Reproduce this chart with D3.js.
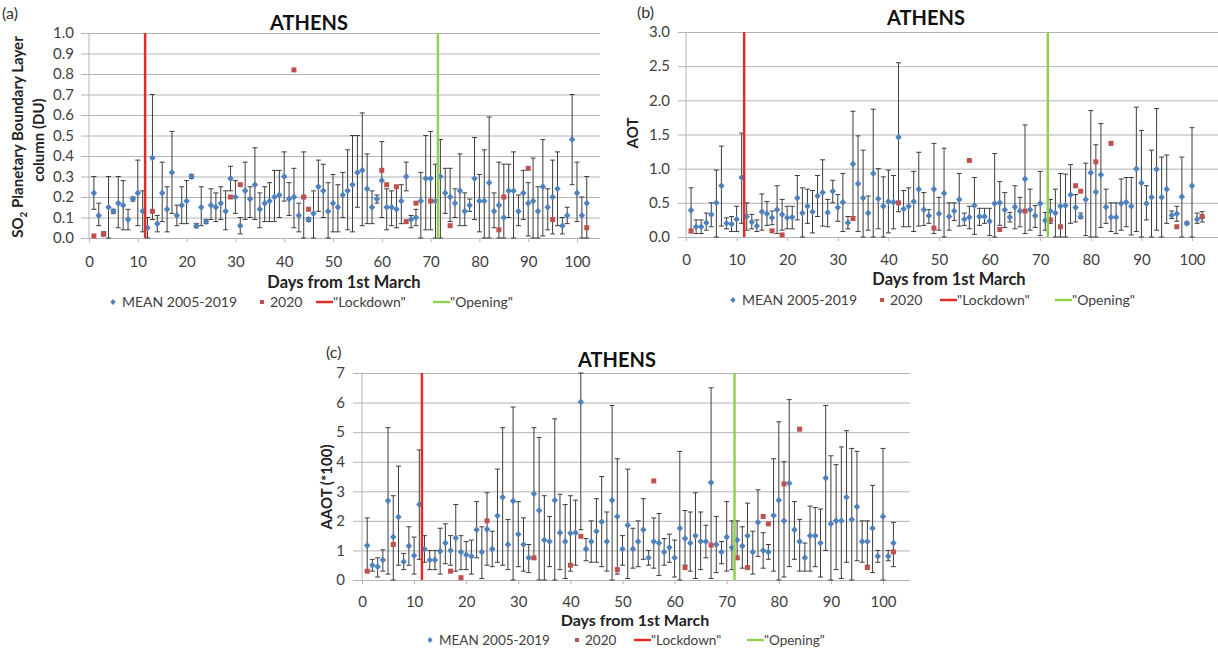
<!DOCTYPE html>
<html>
<head>
<meta charset="utf-8">
<script src="https://cdn.jsdelivr.net/npm/d3@7"></script>
<style>
  body { margin: 0; background: #fff; }
  text { font-family: Lato, "Open Sans", sans-serif; }
</style>
</head>
<body>
<svg id="chart" width="1218" height="648"></svg>
<script>
// days from 1st March
const days = d3.range(1, 103);
const xTicks = [0, 10, 20, 30, 40, 50, 60, 70, 80, 90, 100];
const lockdownDay = 11.5;
const openingDay = 71.5;

// (a) SO2 PBL column (DU)
const so2Mean = [0.22,0.11,0.02,0.15,0.13,0.17,0.16,0.09,0.19,0.22, 0.13,0.05,0.39,0.07,0.22,0.14,0.32,0.11,0.16,0.18,
  0.30,0.06,0.15,0.08,0.16,0.15,0.17,0.13,0.29,0.20, 0.06,0.23,0.19,0.26,0.14,0.17,0.18,0.20,0.21,0.30,
  0.19,0.20,0.11,0.20,0.09,0.12,0.25,0.23,0.13,0.17, 0.15,0.21,0.23,0.26,0.32,0.33,0.24,0.15,0.19,0.28,
  0.15,0.15,0.14,0.18,0.30,0.09,0.10,0.18,0.29,0.29, 0.18,0.30,0.22,0.20,0.17,0.23,0.13,0.16,0.29,0.18,
  0.18,0.27,0.13,0.16,0.10,0.23,0.23,0.13,0.22,0.17, 0.18,0.13,0.25,0.15,0.20,0.24,0.06,0.11,0.48,0.22,
  0.11,0.17];
const so2Hi = [0.30,0.17,0.03,0.30,0.14,0.30,0.28,0.14,0.20,0.38, 0.23,0.10,0.70,0.11,0.37,0.25,0.52,0.16,0.25,0.28,
  0.31,0.07,0.25,0.09,0.24,0.22,0.25,0.23,0.35,0.28, 0.10,0.37,0.25,0.44,0.22,0.25,0.27,0.33,0.33,0.42,
  0.27,0.34,0.17,0.42,0.10,0.23,0.38,0.36,0.27,0.31, 0.26,0.32,0.43,0.50,0.50,0.61,0.41,0.23,0.21,0.47,
  0.24,0.23,0.25,0.26,0.37,0.11,0.14,0.32,0.50,0.52, 0.36,0.48,0.34,0.34,0.24,0.41,0.22,0.19,0.49,0.31,
  0.43,0.59,0.22,0.37,0.36,0.36,0.42,0.21,0.33,0.27, 0.39,0.25,0.48,0.24,0.38,0.42,0.10,0.15,0.70,0.37,
  0.20,0.30];
const so2Lo = [0.14,0.06,0.01,0.00,0.12,0.05,0.04,0.04,0.18,0.06, 0.03,0.00,0.09,0.03,0.08,0.03,0.12,0.06,0.07,0.07,
  0.29,0.05,0.06,0.07,0.09,0.08,0.09,0.04,0.23,0.12, 0.02,0.09,0.10,0.09,0.05,0.08,0.08,0.08,0.10,0.18,
  0.11,0.05,0.03,0.00,0.08,0.00,0.13,0.10,0.00,0.03, 0.03,0.10,0.04,0.03,0.15,0.06,0.07,0.07,0.17,0.10,
  0.04,0.06,0.05,0.07,0.23,0.05,0.06,0.00,0.04,0.04, 0.00,0.00,0.12,0.08,0.10,0.06,0.06,0.13,0.09,0.03,
  0.00,0.00,0.05,0.00,0.00,0.10,0.00,0.06,0.09,0.01, 0.00,0.00,0.01,0.04,0.02,0.06,0.02,0.07,0.26,0.08,
  0.00,0.00];
const so2Days2020 = [1, 3, 13, 29, 31, 42, 44, 45, 60, 61, 63, 65, 67, 70, 74, 84, 85, 90, 95, 102];
const so2Val2020 = [0.01, 0.02, 0.13, 0.20, 0.26, 0.82, 0.20, 0.14, 0.33, 0.26, 0.25, 0.08, 0.17, 0.18, 0.06, 0.04, 0.20, 0.34, 0.09, 0.05];

// (b) AOT
const aotMean = [0.39,0.15,0.15,0.21,0.33,0.50,0.75,0.20,0.19,0.26, 0.87,0.30,0.22,0.16,0.37,0.34,0.28,0.40,0.33,0.28,
  0.29,0.57,0.35,0.45,0.37,0.60,0.65,0.36,0.67,0.43, 0.51,0.21,1.07,0.78,0.57,0.35,0.93,0.56,0.45,0.52,
  0.51,1.46,0.41,0.45,0.52,0.70,0.40,0.31,0.70,0.34, 0.64,0.30,0.38,0.55,0.26,0.29,0.46,0.30,0.30,0.23,
  0.49,0.50,0.40,0.29,0.44,0.38,0.85,0.40,0.31,0.49, 0.24,0.38,0.35,0.45,0.46,0.62,0.43,0.30,0.55,0.94,
  0.66,0.91,0.44,0.29,0.29,0.49,0.51,0.45,1.00,0.79, 0.49,0.58,0.99,0.58,0.70,0.32,0.34,0.59,0.20,0.75,
  0.26,0.29];
const aotHi = [0.72,0.25,0.25,0.35,0.50,0.98,1.33,0.28,0.30,0.45, 1.52,0.50,0.33,0.25,0.63,0.52,0.38,0.75,0.55,0.45,
  0.45,0.90,0.72,0.70,0.68,0.90,1.13,0.55,0.83,0.62, 0.93,0.30,1.84,1.48,1.27,0.60,1.87,1.00,0.88,0.98,
  0.90,2.55,0.68,0.72,0.96,1.24,0.65,0.40,1.37,0.58, 1.30,0.50,0.50,0.93,0.35,0.45,0.87,0.42,0.42,0.42,
  1.22,0.81,0.65,0.36,0.75,0.58,1.64,0.70,0.46,0.96, 0.36,0.55,0.70,0.93,0.92,1.06,0.62,0.35,1.08,1.85,
  1.35,1.66,0.70,0.50,0.50,0.85,0.87,0.87,1.90,1.56, 0.75,1.27,1.88,1.17,1.20,0.38,0.45,1.17,0.22,1.60,
  0.35,0.37];
const aotLo = [0.06,0.05,0.05,0.10,0.15,0.00,0.16,0.12,0.08,0.08, 0.20,0.10,0.12,0.08,0.10,0.17,0.18,0.05,0.10,0.12,
  0.12,0.25,0.00,0.20,0.06,0.30,0.16,0.15,0.50,0.23, 0.08,0.12,0.30,0.08,0.00,0.10,0.00,0.12,0.00,0.06,
  0.12,0.37,0.15,0.15,0.08,0.16,0.17,0.20,0.05,0.10, 0.00,0.10,0.24,0.16,0.17,0.12,0.04,0.17,0.20,0.02,
  0.00,0.17,0.14,0.22,0.12,0.15,0.05,0.10,0.14,0.02, 0.10,0.20,0.00,0.00,0.00,0.20,0.22,0.27,0.02,0.00,
  0.00,0.14,0.20,0.08,0.05,0.10,0.15,0.03,0.08,0.00, 0.25,0.00,0.10,0.00,0.20,0.27,0.23,0.00,0.18,0.00,
  0.20,0.22];
const aotDays2020 = [1, 17, 19, 33, 42, 49, 56, 62, 67, 72, 74, 77, 78, 81, 84, 97, 102];
const aotVal2020 = [0.09, 0.09, 0.03, 0.27, 0.50, 0.13, 1.12, 0.11, 0.38, 0.25, 0.15, 0.75, 0.67, 1.10, 1.37, 0.15, 0.30];

// (c) AAOT (*100)
const aaotMean = [1.17,0.50,0.45,0.68,2.68,1.45,2.13,0.62,1.15,0.83, 2.55,1.05,0.68,0.68,0.97,1.25,1.00,1.42,0.95,0.85,
  0.80,1.70,0.95,1.72,1.05,2.17,2.80,1.20,2.67,1.55, 1.20,0.75,2.92,2.35,1.35,1.30,2.70,1.60,1.30,1.58,
  1.60,6.02,1.05,1.30,1.65,1.97,1.30,2.70,2.15,1.05, 1.85,1.05,1.30,1.70,0.75,1.30,1.25,0.95,1.10,0.75,
  1.75,1.40,1.25,1.50,1.30,1.30,3.30,1.20,0.95,1.45, 1.10,1.35,1.15,1.50,0.95,1.95,1.00,0.95,2.18,2.70,
  2.00,3.27,1.70,1.30,0.75,1.50,1.50,1.25,3.45,1.90, 2.00,2.00,2.80,2.05,2.48,1.30,1.30,1.75,0.80,2.15,
  0.80,1.25];
const aaotHi = [2.10,0.70,0.75,1.02,5.15,2.85,3.85,0.90,1.80,1.45, 4.40,1.50,1.00,1.00,1.75,1.90,1.50,2.55,1.50,1.30,
  1.35,2.65,1.80,2.95,1.65,3.75,5.15,2.05,5.85,2.65, 2.10,1.20,5.15,4.82,2.85,2.15,5.45,2.90,2.55,2.85,
  2.70,7.00,1.40,2.00,2.75,3.50,2.30,5.90,4.10,1.50, 3.75,1.75,2.00,2.75,1.00,2.10,2.25,1.40,1.55,1.35,
  4.35,2.35,2.30,2.95,2.30,1.85,6.50,2.15,1.30,2.65, 2.00,2.00,1.80,2.60,1.65,3.05,1.60,1.20,4.10,5.35,
  4.00,6.10,2.65,2.05,1.25,2.50,2.45,2.40,5.90,4.20, 3.90,4.50,5.05,4.45,4.35,2.00,2.00,3.20,1.00,4.45,
  1.00,1.95];
const aaotLo = [0.30,0.30,0.10,0.30,0.20,0.00,0.50,0.35,0.50,0.20, 0.70,0.60,0.35,0.35,0.20,0.55,0.50,0.30,0.35,0.35,
  0.20,0.75,0.05,0.50,0.45,0.60,0.50,0.35,0.00,0.45, 0.30,0.25,0.70,0.00,0.00,0.45,0.00,0.35,0.05,0.30,
  0.50,1.70,0.65,0.60,0.60,0.45,0.30,0.00,0.20,0.50, 0.05,0.40,0.45,0.70,0.50,0.40,0.15,0.50,0.60,0.10,
  0.00,0.50,0.30,0.05,0.35,0.75,0.05,0.25,0.55,0.30, 0.35,0.70,0.40,0.40,0.20,0.80,0.40,0.70,0.30,0.00,
  0.10,0.45,0.70,0.30,0.30,0.30,0.45,0.10,1.00,0.00, 0.35,0.05,0.60,0.00,0.65,0.60,0.50,0.25,0.60,0.00,
  0.65,0.45];
const aaotDays2020 = [1, 6, 17, 19, 24, 33, 40, 42, 49, 56, 62, 67, 72, 74, 77, 78, 81, 84, 97, 102];
const aaotVal2020 = [0.30, 1.20, 0.30, 0.08, 2.00, 0.75, 0.50, 1.48, 0.35, 3.35, 0.42, 1.18, 0.75, 0.42, 2.15, 1.90, 3.25, 5.10, 0.42, 0.95];

const blue = '#4f81bd', red = '#c0504d', lockRed = '#e42b2b', openGreen = '#92d050';
const svg = d3.select('#chart');

function drawPanel(p) {
  const g = svg.append('g');
  const x = d3.scaleLinear().domain([0, 100]).range([p.x0, p.x100]);
  const y = d3.scaleLinear().domain([0, p.ymax]).range([p.bottom, p.top]);

  // horizontal grid + y tick labels
  const ya = g.append('g').attr('transform', `translate(${p.left},0)`)
    .call(d3.axisLeft(y).tickValues(p.yTicks).tickFormat(p.yFmt)
      .tickSize(-(p.right - p.left)).tickPadding(p.yPad));
  ya.select('.domain').remove();
  ya.selectAll('line').attr('stroke', '#b4b4b4');
  ya.selectAll('text').attr('font-size', 15).attr('fill', '#404040').attr('font-family', 'Lato, sans-serif');

  // x axis ticks + labels
  const xa = g.append('g').attr('transform', `translate(0,${p.bottom})`)
    .call(d3.axisBottom(x).tickValues(xTicks).tickSize(4).tickPadding(p.xPad));
  xa.select('.domain').remove();
  xa.selectAll('line').attr('stroke', '#b4b4b4');
  xa.selectAll('text').attr('font-size', 15).attr('fill', '#404040').attr('font-family', 'Lato, sans-serif');

  g.append('line').attr('x1', x(0)).attr('x2', x(0)).attr('y1', p.top).attr('y2', p.bottom)
    .attr('stroke', '#b4b4b4');

  // error bars
  const rows = days.map((d, i) => ({ d, m: p.mean[i], hi: p.hi[i], lo: p.lo[i] }));
  const eb = g.append('g').attr('stroke', '#3c3c3c').attr('stroke-width', 1)
    .selectAll('g').data(rows).join('g');
  eb.append('line').attr('x1', r => x(r.d)).attr('x2', r => x(r.d))
    .attr('y1', r => y(r.hi)).attr('y2', r => y(r.lo));
  eb.append('line').attr('x1', r => x(r.d) - 2.5).attr('x2', r => x(r.d) + 2.5)
    .attr('y1', r => y(r.hi)).attr('y2', r => y(r.hi));
  eb.append('line').attr('x1', r => x(r.d) - 2.5).attr('x2', r => x(r.d) + 2.5)
    .attr('y1', r => y(r.lo)).attr('y2', r => y(r.lo));

  // mean diamonds
  g.append('g').selectAll('path').data(rows).join('path')
    .attr('d', 'M0,-3.5L3.2,0L0,3.5L-3.2,0Z')
    .attr('transform', r => `translate(${x(r.d)},${y(r.m)})`)
    .attr('fill', blue);

  // 2020 squares
  g.append('g').selectAll('rect').data(p.days2020).join('rect')
    .attr('x', (d) => x(d) - 2.5)
    .attr('y', (d, i) => y(p.val2020[i]) - 2.5)
    .attr('width', 5).attr('height', 5)
    .attr('fill', red);

  // lockdown & opening
  g.append('line').attr('x1', x(lockdownDay)).attr('x2', x(lockdownDay))
    .attr('y1', p.top).attr('y2', p.bottom).attr('stroke', lockRed).attr('stroke-width', 2.5);
  g.append('line').attr('x1', x(openingDay)).attr('x2', x(openingDay))
    .attr('y1', p.top).attr('y2', p.bottom).attr('stroke', openGreen).attr('stroke-width', 2.5);

  // titles
  g.append('text').attr('x', p.titleX).attr('y', p.titleY).attr('text-anchor', 'middle')
    .attr('font-size', 20).attr('font-weight', 'bold').attr('fill', '#111').text('ATHENS');
  g.append('text').attr('x', p.tagX).attr('y', p.tagY).attr('font-size', 16).attr('fill', '#333').text(p.tag);
  g.append('text').attr('x', p.xTitleX).attr('y', p.xTitleY).attr('text-anchor', 'middle')
    .attr('font-size', p.xTitleSize).attr('font-weight', 'bold').attr('fill', '#222').text('Days from 1st March');

  // y title
  p.yTitle(g);

  // legend
  const lg = g.append('g').attr('font-size', p.legendSize).attr('fill', '#404040');
  const L = p.legend, ly = p.legendY;
  lg.append('path').attr('d', 'M0,-3L2.6,0L0,3L-2.6,0Z').attr('fill', blue)
    .attr('transform', `translate(${L[0]},${ly - 5})`);
  lg.append('text').attr('x', L[0] + 9).attr('y', ly).text('MEAN 2005-2019');
  lg.append('rect').attr('x', L[1] - 2).attr('y', ly - 7).attr('width', 4).attr('height', 4).attr('fill', red);
  lg.append('text').attr('x', L[1] + 8).attr('y', ly).text('2020');
  lg.append('line').attr('x1', L[2]).attr('x2', L[2] + 17).attr('y1', ly - 5).attr('y2', ly - 5)
    .attr('stroke', lockRed).attr('stroke-width', 2.5);
  lg.append('text').attr('x', L[2] + 17).attr('y', ly).text('"Lockdown"');
  lg.append('line').attr('x1', L[3]).attr('x2', L[3] + 17).attr('y1', ly - 5).attr('y2', ly - 5)
    .attr('stroke', openGreen).attr('stroke-width', 2.5);
  lg.append('text').attr('x', L[3] + 17).attr('y', ly).text('"Opening"');
}

const oneDec = d3.format('.1f');

drawPanel({
  left: 81, right: 600, top: 33, bottom: 238, x0: 89, x100: 577, ymax: 1.0,
  yTicks: d3.range(0, 11).map(v => v / 10), yFmt: oneDec, yPad: 7, xPad: 14,
  mean: so2Mean, hi: so2Hi, lo: so2Lo, days2020: so2Days2020, val2020: so2Val2020,
  titleX: 309, titleY: 30, tag: '(a)', tagX: 2, tagY: 19, xTitleX: 344, xTitleY: 288, xTitleSize: 16.5,
  legend: [113, 262, 316, 433], legendY: 307, legendSize: 14,
  yTitle: g => {
    const t1 = g.append('text').attr('transform', 'translate(23,137) rotate(-90)').attr('text-anchor', 'middle')
      .attr('font-size', 15).attr('font-weight', 'bold').attr('fill', '#222');
    t1.append('tspan').text('SO');
    t1.append('tspan').attr('font-size', 10).attr('dy', 4).text('2');
    t1.append('tspan').attr('dy', -4).text(' Planetary Boundary Layer');
    g.append('text').attr('transform', 'translate(44,140) rotate(-90)').attr('text-anchor', 'middle')
      .attr('font-size', 15).attr('font-weight', 'bold').attr('fill', '#222').text('column  (DU)');
  }
});

drawPanel({
  left: 678, right: 1218, top: 32, bottom: 237, x0: 686, x100: 1192, ymax: 3.0,
  yTicks: [0, 0.5, 1, 1.5, 2, 2.5, 3], yFmt: oneDec, yPad: 8, xPad: 13,
  mean: aotMean, hi: aotHi, lo: aotLo, days2020: aotDays2020, val2020: aotVal2020,
  titleX: 926, titleY: 25, tag: '(b)', tagX: 637, tagY: 18, xTitleX: 949, xTitleY: 285, xTitleSize: 16.5,
  legend: [733, 882, 940, 1055], legendY: 305, legendSize: 14,
  yTitle: g => {
    g.append('text').attr('transform', 'translate(638,133) rotate(-90)').attr('text-anchor', 'middle')
      .attr('font-size', 15).attr('font-weight', 'bold').attr('fill', '#222').text('AOT');
  }
});

drawPanel({
  left: 353, right: 910, top: 373, bottom: 580, x0: 362, x100: 883, ymax: 7,
  yTicks: [0, 1, 2, 3, 4, 5, 6, 7], yFmt: d3.format('d'), yPad: 8, xPad: 12,
  mean: aaotMean, hi: aaotHi, lo: aaotLo, days2020: aaotDays2020, val2020: aaotVal2020,
  titleX: 617, titleY: 367, tag: '(c)', tagX: 326, tagY: 358, xTitleX: 635, xTitleY: 626, xTitleSize: 16,
  legend: [430, 577, 634, 747], legendY: 645, legendSize: 13.5,
  yTitle: g => {
    g.append('text').attr('transform', 'translate(332,487) rotate(-90)').attr('text-anchor', 'middle')
      .attr('font-size', 15).attr('font-weight', 'bold').attr('fill', '#222').text('AAOT (*100)');
  }
});
</script>
</body>
</html>
